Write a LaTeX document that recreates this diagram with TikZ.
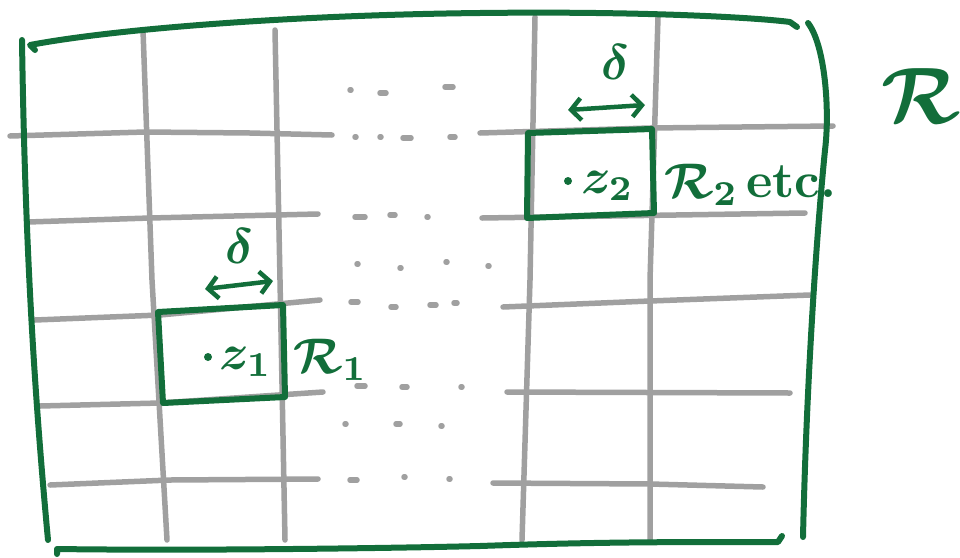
\documentclass[tikz,border=0pt]{standalone}
\usetikzlibrary{arrows.meta}
\begin{document}
\begin{tikzpicture}[x=1pt, y=-1pt, line join=round, line cap=round,
    pen/.style={cGreen, line width=6pt},
    gridline/.style={cGrey, line width=5.5pt},
    lbl/.style={text=cGreen, inner sep=0pt, font=\boldmath, scale=5},
    span/.style={cGreen, line width=4.5pt, {Straight Barb[length=10pt,width=22pt]}-{Straight Barb[length=10pt,width=22pt]}}]
  \definecolor{cGreen}{RGB}{18, 110, 58}
  \definecolor{cGrey}{RGB}{160, 160, 160}
  \useasboundingbox (0,0) rectangle (960,557);

  % grid
  \draw[gridline] (143,30) -- (152,280) -- (167,540);
  \draw[gridline] (275,30) -- (280,280) -- (285,540);
  \draw[gridline] (535,17) -- (530,280) -- (522,540);
  \draw[gridline] (658,17) -- (650,280) -- (650,540);
  \draw[gridline] (10,136) -- (145,132) -- (250,133) -- (332,135);
  \draw[gridline] (28,222) -- (150,218) -- (318,214);
  \draw[gridline] (35,320) -- (160,315) -- (320,300);
  \draw[gridline] (40,406) -- (160,403) -- (323,392);
  \draw[gridline] (50,485) -- (170,480) -- (318,479);
  \draw[gridline] (480,133) -- (650,128) -- (833,126);
  \draw[gridline] (482,218) -- (805,213);
  \draw[gridline] (503,307) -- (650,301) -- (810,295);
  \draw[gridline] (507,392) -- (790,393);
  \draw[gridline] (493,483) -- (650,484) -- (763,487);

  % dots in the middle
  \foreach \x/\y/\l in {350/90/1, 380/93/6, 445/87/8,
      355/137/1, 380/137/1, 403/138/8, 450/137/5,
      355/217/10, 390/215/5, 427/217/1,
      357/264/1, 400/268/1, 446/262/1, 488/266/1,
      351/302/7, 391/307/5, 430/305/6, 454/303/3,
      357/386/8, 402/387/5, 461/387/1,
      345/424/1, 396/424/4, 441/426/1,
      350/480/7, 404/477/1, 449/479/1}
    \draw[gridline] (\x,\y) -- ++(\l,0);

  % the rectangle R
  \draw[pen] (35,50) -- (30,45) .. controls (120,28) and (300,15) .. (480,13)
             .. controls (650,11) and (760,18) .. (790,22) -- (797,27);
  \draw[pen] (22,40) .. controls (25,250) and (35,400) .. (48,540);
  \draw[pen] (808,23) .. controls (825,45) and (830,110) .. (825,150)
             .. controls (815,250) and (806,400) .. (803,537);
  \draw[pen] (57,554) -- (57,549) .. controls (200,551) and (400,548) .. (480,546)
             .. controls (650,540) and (750,543) .. (778,542) -- (782,536);
  \node[lbl, scale=1.6] (bigR) at (921,96) {$\mathcal{R}$};

  % R_1
  \draw[pen] (158,312) -- (283,305) -- (285,397) -- (163,403) -- cycle;
  \coordinate (pz1) at (208,357);
  \fill[cGreen] (pz1) circle (4);
  \node[lbl, anchor=west] (z1) at (218,362) {$z_1$};
  \node[lbl, anchor=west] (r1) at (292,360) {$\mathcal{R}_1$};
  \node[lbl] (d1) at (240,246) {$\delta$};
  \coordinate (a1) at (205,289);
  \coordinate (b1) at (273,281);
  \draw[span] (a1) -- (b1);

  % R_2
  \draw[pen] (528,133) -- (652,129) -- (654,213) -- (527,218) -- cycle;
  \coordinate (pz2) at (568,181);
  \fill[cGreen] (pz2) circle (4);
  \node[lbl, anchor=west] (z2) at (580,186) {$z_2$};
  \node[lbl, anchor=west] (r2) at (663,185) {$\mathcal{R}_2$};
  \node[lbl, anchor=west, font=\bfseries] (etc) at (745,182) {etc.};
  \node[lbl] (d2) at (616,62) {$\delta$};
  \coordinate (a2) at (568,110);
  \coordinate (b2) at (645,105);
  \draw[span] (a2) -- (b2);
\end{tikzpicture}
\end{document}
